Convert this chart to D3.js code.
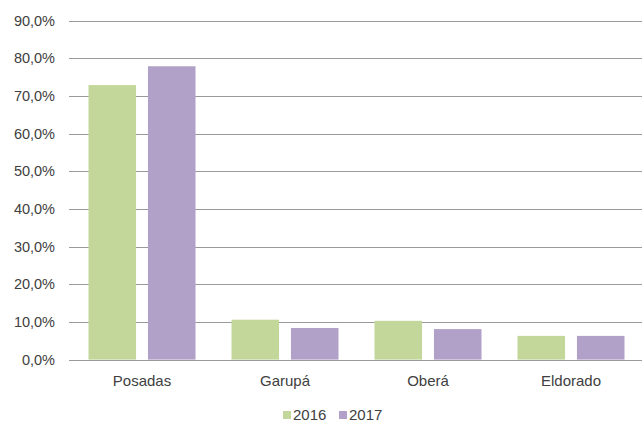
<!DOCTYPE html>
<html>
<head>
<meta charset="utf-8">
<script src="https://cdn.jsdelivr.net/npm/d3@7"></script>
<style>
  html, body { margin: 0; padding: 0; background: #fff; }
  svg { display: block; }
  text { font-family: "Liberation Sans", Arial, sans-serif; fill: #404040; }
</style>
</head>
<body>
<svg id="chart" width="642" height="423"></svg>
<script>
const categories = ["Posadas", "Garupá", "Oberá", "Eldorado"];
const seriesNames = ["2016", "2017"];
const values2016 = [72.9, 10.6, 10.3, 6.3];
const values2017 = [77.9, 8.4, 8.1, 6.3];
const yTicks = [0, 10, 20, 30, 40, 50, 60, 70, 80, 90];
const colors = ["#c4d79b", "#b1a0c7"];

const svg = d3.select("#chart");
const W = 642, H = 423;
const plot = { left: 70.5, right: 642.5, top: 20.7, bottom: 359.6 };

const locale = d3.formatLocale({ decimal: ",", thousands: ".", grouping: [3], currency: ["", "%"] });
const fmt = v => locale.format(".1f")(v) + "%";

const y = d3.scaleLinear().domain([0, 90]).range([plot.bottom, plot.top]);
const x0 = d3.scaleBand().domain(categories).range([plot.left, plot.right]).paddingInner(0).paddingOuter(0);
const x1 = d3.scaleBand().domain(seriesNames).range([18, 125]).paddingInner(0.2).paddingOuter(0);

// gridlines
const yAxis = d3.axisLeft(y).tickValues(yTicks).tickSize(-(W - 69)).tickFormat(fmt).tickPadding(14);
const gy = svg.append("g").attr("transform", `translate(69,0)`).call(yAxis);
gy.select(".domain").remove();
gy.selectAll(".tick line").attr("stroke", "#9a9a9a").attr("stroke-width", 1).attr("shape-rendering", "crispEdges");
gy.selectAll(".tick text").attr("font-size", "14.5px").attr("fill", "#404040").attr("font-family", "Liberation Sans, Arial, sans-serif");

// bars
const data = categories.map((c, i) => ({ cat: c, vals: [values2016[i], values2017[i]] }));
const groups = svg.append("g").selectAll("g").data(data).join("g")
  .attr("transform", d => `translate(${x0(d.cat)},0)`);
groups.selectAll("rect").data(d => d.vals.map((v, j) => ({ s: seriesNames[j], v, j })))
  .join("rect")
  .attr("x", d => x1(d.s))
  .attr("width", x1.bandwidth())
  .attr("y", d => y(d.v))
  .attr("height", d => y(0) - y(d.v))
  .attr("fill", d => colors[d.j]);

// baseline redraw
svg.append("line").attr("x1", 69).attr("x2", W).attr("y1", Math.round(y(0)) + 0.5).attr("y2", Math.round(y(0)) + 0.5)
  .attr("stroke", "#9a9a9a").attr("stroke-width", 1);

// x labels
const xAxis = d3.axisBottom(x0).tickSize(0).tickPadding(0);
const gx = svg.append("g").attr("transform", `translate(0,${plot.bottom})`).call(xAxis);
gx.select(".domain").remove();
gx.selectAll(".tick text").attr("font-size", "15px").attr("fill", "#404040")
  .attr("font-family", "Liberation Sans, Arial, sans-serif").attr("dy", null).attr("y", 26);

// legend
const legend = svg.append("g").attr("transform", "translate(283,0)");
const legItems = [{ name: seriesNames[0], color: colors[0], x: 0 }, { name: seriesNames[1], color: colors[1], x: 56 }];
const li = legend.selectAll("g").data(legItems).join("g").attr("transform", d => `translate(${d.x},0)`);
li.append("rect").attr("x", 0).attr("y", 411).attr("width", 8).attr("height", 8).attr("fill", d => d.color);
li.append("text").attr("x", 10).attr("y", 420).attr("font-size", "15px").text(d => d.name);
</script>
</body>
</html>
